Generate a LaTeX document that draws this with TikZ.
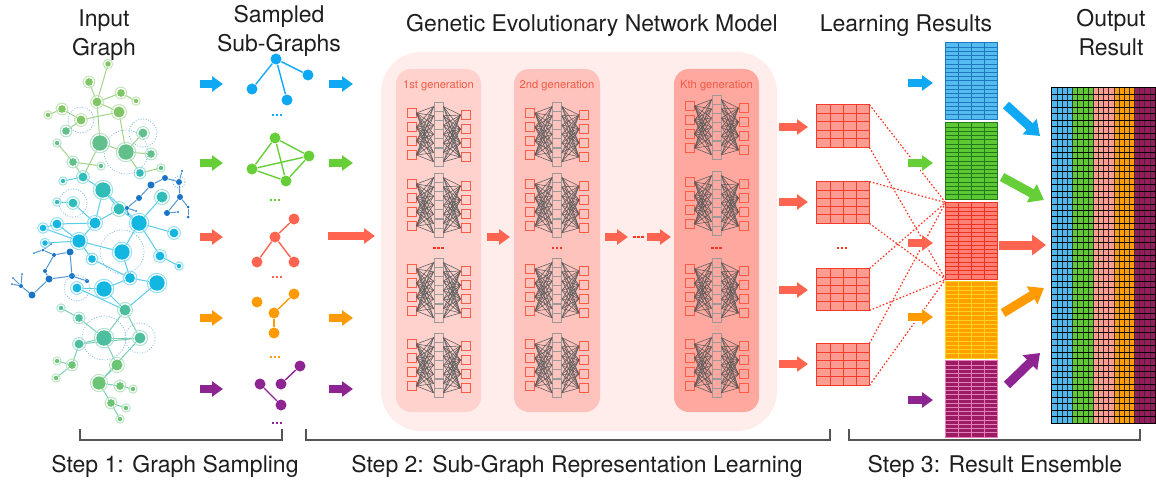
\documentclass[tikz,border=0pt]{standalone}
\usepackage{fontspec}
\setmainfont{TeX Gyre Heros}
\usetikzlibrary{arrows.meta,fit}
\definecolor{txt}{HTML}{1E1E1E}
\definecolor{genred}{HTML}{F25A45}
\definecolor{sqred}{HTML}{FF5C45}
\definecolor{sqgray}{HTML}{9A9A9A}
\definecolor{nngray}{HTML}{5A5A5A}
\definecolor{modelbg}{HTML}{FFEDEC}
\definecolor{gen1}{HTML}{FFD2CD}
\definecolor{gen2}{HTML}{FFC3BD}
\definecolor{genk}{HTML}{FFA89F}
\definecolor{ablue}{HTML}{0FA9F3}
\definecolor{agreen}{HTML}{66CF38}
\definecolor{ared}{HTML}{FF6450}
\definecolor{aorange}{HTML}{FF9A00}
\definecolor{apurple}{HTML}{8E2392}
\definecolor{dotred}{HTML}{FF3322}
\definecolor{brkgray}{HTML}{555555}
\definecolor{haloblue}{HTML}{7DB5E3}
\definecolor{gA}{HTML}{80C665}
\definecolor{gB}{HTML}{62C08A}
\definecolor{gC}{HTML}{30BCB8}
\definecolor{gD}{HTML}{12B6E0}
\definecolor{gF}{HTML}{4DBF9E}
\definecolor{gG}{HTML}{6CC574}
\definecolor{dB}{HTML}{1A74C6}
\definecolor{cB}{HTML}{4FB8EE}
\definecolor{cG}{HTML}{5FC934}
\definecolor{cP}{HTML}{FF9C90}
\definecolor{cO}{HTML}{FF9D00}
\definecolor{cU}{HTML}{9A1A5E}
\definecolor{tbF}{HTML}{55BCF0}\definecolor{tbL}{HTML}{1D78C0}
\definecolor{tgF}{HTML}{5CC833}\definecolor{tgL}{HTML}{23781A}
\definecolor{trF}{HTML}{FF8074}\definecolor{trL}{HTML}{EE3322}
\definecolor{toF}{HTML}{FFA000}\definecolor{toL}{HTML}{FFD21E}
\definecolor{tpF}{HTML}{9B1C60}\definecolor{tpL}{HTML}{E57EBE}
\definecolor{tsF}{HTML}{FF9C92}\definecolor{tsL}{HTML}{F23B2B}
\pgfdeclarelayer{bg}
\pgfsetlayers{bg,main}
\tikzset{
 ttl/.style={font=\fontsize{11.5}{14}\selectfont, text=txt, anchor=base, inner sep=0pt},
 glab/.style={font=\fontsize{5.6}{6}\selectfont, text=genred, anchor=base, inner sep=0pt},
 blk/.style={line width=4pt, -{Triangle[length=5.5pt,width=7.5pt]}},
 wblk/.style={draw=white, line width=6pt, -{Triangle[length=7pt,width=10pt]}},
 bigblk/.style={line width=4.5pt, -{Triangle[length=7pt,width=10pt]}},
 lsq/.style={draw=sqred, line width=0.5pt, minimum size=4.5pt, inner sep=0pt},
 msq/.style={draw=sqgray, line width=0.45pt, minimum size=4.5pt, inner sep=0pt},
 nnl/.style={draw=nngray, line width=0.28pt},
 gnode/.style={circle, inner sep=0pt},
 sn/.style={circle, inner sep=0pt, minimum size=5.5pt},
 se/.style={line width=0.7pt},
 dl/.style={draw=dotred, line width=0.6pt, dash pattern=on 0.8pt off 1pt},
 brk/.style={draw=brkgray, line width=0.7pt},
 halo/.style={draw=haloblue, line width=0.35pt, dash pattern=on 0.5pt off 0.8pt},
 gbox/.style={inner sep=0pt, rounded corners=7.5pt},
}
\newcommand{\nnet}[3]{%
 \foreach \i in {0,...,3} {
   \node[lsq] (#3l\i) at (#1-27, #2+11+14*\i) {};
   \node[lsq] (#3r\i) at (#1+27, #2+13+14*\i) {};
 }
 \foreach \j in {0,...,6} \node[msq] (#3m\j) at (#1, #2+4.6+9.2*\j) {};
 \foreach \i in {0,...,3} \foreach \j in {0,...,6} {
   \draw[nnl] (#3l\i.east) -- (#3m\j.west);
   \draw[nnl] (#3m\j.east) -- (#3r\i.west);
 }
}
\newcommand{\mydots}[3]{%
 \foreach \k in {-1,0,1} \fill[#3] ({#1+\k*4-1.1},{#2-1.1}) rectangle ++(2.2,2.2);
}
\newcommand{\tbl}[9]{%
 \node[fit={(#1,#2) (#3,#4)}, inner sep=0pt, fill=#7] (#9) {};
 \pgfmathtruncatemacro\nc{#5-1}
 \pgfmathtruncatemacro\nr{#6-1}
 \foreach \i in {1,...,\nc} \draw[#8, line width=0.5pt] ({#1+\i*(#3-#1)/#5},#2) -- ({#1+\i*(#3-#1)/#5},#4);
 \foreach \i in {1,...,\nr} \draw[#8, line width=0.5pt] (#1,{#2+\i*(#4-#2)/#6}) -- (#3,{#2+\i*(#4-#2)/#6});
 \draw[#8, line width=0.6pt] (#9.north west) rectangle (#9.south east);
}
\begin{document}
\begin{tikzpicture}[x=0.5pt,y=-0.5pt]
\useasboundingbox (0,0) rectangle (1156,481);
% ---------- titles ----------
\node[ttl] (t1a) at (104,27) {Input};
\node[ttl] (t1b) at (104,56) {Graph};
\node[ttl] (t2a) at (279,23) {Sampled};
\node[ttl] (t2b) at (279,52) {Sub-Graphs};
\node[ttl] (t3) at (592,32) {Genetic Evolutionary Network Model};
\node[ttl] (t4) at (906,32) {Learning Results};
\node[ttl] (t5a) at (1111,27) {Output};
\node[ttl] (t5b) at (1111,56) {Result};
\node[ttl] (s1) at (175,472) {Step 1: Graph Sampling};
\node[ttl] (s2) at (577,472) {Step 2: Sub-Graph Representation Learning};
\node[ttl] (s3) at (995,472) {Step 3: Result Ensemble};
% ---------- brackets ----------
\draw[brk] (80,429) -- (80,440) -- (282,440) -- (282,429);
\draw[brk] (306,429) -- (306,440) -- (830,440) -- (830,429);
\draw[brk] (849,429) -- (849,440) -- (1140,440) -- (1140,429);
% ---------- input graph ----------
\foreach \n/\x/\y/\r/\c in {
 va/108/64/2.5/gA, vb/89/82/3.5/gA, vc/121/93/3.5/gA, vd/136/101/2/gA, ve/97/102/4/gA,
 vf/62/109/3.5/gA, vg/48/115/2/gA, vh/81/120/4/gA, vi/119/112/5/gA, vj/66/131/3.5/gB,
 vk/143/133/4/gB, vl/100/143/7/gB, vm/126/152/7/gB, vn/151/154/3.5/gB, vo/57/143/2/gB,
 vp/73/162/3.5/gB, vq/101/166/2/gB, vr/140/173/3.5/gC, vs/161/168/2/gB, vt/83/177/4/gC,
 vu/63/181/2/gC, vv/103/190/7/gC, vw/73/203/4/gC, vx/57/202/2/gC, vy/119/209/5/gC,
 vz/139/223/7/gD, vA/162/197/5/gC, vB/174/233/4/gD, vC/95/223/5/gD, vD/57/224/4/gD,
 vE/43/228/3/gD, vF/79/241/6/gD, vG/45/243/2.5/gD, vH/122/252/7/gD, vI/160/256/4/gD,
 vJ/179/266/2/gD, vK/92/259/3.5/gD, vL/130/278/4.5/gD, vM/157/283/7/gD, vN/104/289/7/gD,
 vO/77/288/4/gD, vP/125/310/5/gF, vQ/79/318/3.5/gF, vR/61/308/2/gF, vS/104/338/7/gF,
 vT/140/338/5/gF, vU/79/344/4/gF, vV/117/365/5/gG, vW/72/365/3.5/gG, vX/57/361/2/gG,
 vY/56/378/2/gG, vZ/99/383/6/gG, vAA/120/386/3.5/gG, vAB/133/389/2/gG, vAC/111/403/3.5/gG,
 vAD/126/408/2/gG, vAE/120/419/2/gG}
 {
 \pgfmathsetmacro\rad{\r*1.1}
 \pgfmathsetmacro\ring{\r*0.55+1.0}
 \node[gnode, fill=\c, minimum size={\rad pt}] (\n) at (\x,\y) {};
 \draw[\c!45!white, line width=0.5pt] (\n.center) circle[radius={\ring pt}];
 }
\foreach \n/\x/\y/\r in {
 db1/151/185/3.5, db2/165/178/3, db3/179/182/3, db4/182/171/1.2, db5/180/197/3,
 db6/188/207/1.5, db7/188/217/1.5, db8/167/213/3, db9/178/212/1.2, db10/139/198/3,
 db11/127/208/2, db12/128/214/1, db13/136/211/1, dc1/70/252/3.5, dc2/54/255/2,
 dc3/43/250/1.5, dc4/34/253/1, dc5/51/244/1, dc6/45/271/2, dc7/72/276/3,
 dc8/87/281/2, dc9/49/279/3.5, dc10/32/295/3.5, dc11/21/286/2, dc12/13/278/1,
 dc13/22/274/1, dc14/12/284/1}
 \node[gnode, fill=dB, minimum size={\r pt}] (\n) at (\x,\y) {};
\foreach \n/\rr in {vh/6.5pt, vk/7pt, vm/11pt, vw/7pt, vH/11pt, vO/6.5pt, vS/11pt, vT/7.5pt, db3/3pt}
 \draw[halo] (\n) circle[radius=\rr];
\begin{pgfonlayer}{bg}
\foreach \a/\b in {va/ve, vb/ve, ve/vc, vc/vd, ve/vi, ve/vl, vf/vh, vg/vf, vh/vi, vj/vh,
 vl/vm, vi/vm, vk/vm, vm/vn, vm/vr, vr/vs, vo/vp, vp/vq, vp/vt, vt/vl}
 \draw[gA!75!white, line width=0.5pt] (\a) -- (\b);
\foreach \a/\b in {vu/vt, vv/vt, vv/vy, vv/vz, vw/vx, vw/vC, vy/vz, vz/vA, vz/vB, vz/vH,
 vC/vD, vC/vF, vC/vv, vD/vE, vE/vF, vF/vK, vF/vH, vH/vL, vK/vL, vL/vM, vL/vN, vN/vO,
 vN/vP, vO/vP, vI/vJ, vI/vz, vM/vP, vy/vC, vD/vF, vG/vF}
 \draw[gD!70!white, line width=0.5pt] (\a) -- (\b);
\foreach \a/\b in {vP/vS, vP/vT, vQ/vR, vQ/vS, vS/vT, vS/vU, vT/vU, vU/vW, vW/vX, vW/vY,
 vS/vV, vV/vZ, vT/vZ, vZ/vAA, vAA/vAB, vZ/vAC, vAC/vAD, vAC/vAE}
 \draw[gF!75!white, line width=0.5pt] (\a) -- (\b);
\foreach \a/\b in {db1/db2, db2/db3, db3/db4, db3/db5, db5/db6, db6/db7, db5/db8, db8/db9,
 db1/db10, db10/db11, db11/db12, db11/db13, dc1/dc2, dc2/dc3, dc3/dc4, dc3/dc5, dc1/dc7,
 dc2/dc6, dc6/dc9, dc9/dc7, dc7/dc8, dc9/dc10, dc10/dc11, dc11/dc12, dc11/dc13, dc11/dc14}
 \draw[dB!75!white, line width=0.5pt] (\a) -- (\b);
\end{pgfonlayer}
% ---------- sampled sub-graphs ----------
\foreach \n/\x/\y in {sb1/276/59, sb2/308/75, sb3/252/89, sb4/287/100}
 \node[sn, fill=ablue] (\n) at (\x,\y) {};
\foreach \a/\b in {sb1/sb2, sb1/sb3, sb1/sb4} \draw[se, ablue] (\a) -- (\b);
\foreach \n/\x/\y in {sg1/275/138, sg2/309/156, sg3/252/169, sg4/286/181}
 \node[sn, fill=agreen] (\n) at (\x,\y) {};
\foreach \a/\b in {sg1/sg2, sg1/sg3, sg1/sg4, sg3/sg2, sg3/sg4, sg2/sg4} \draw[se, agreen] (\a) -- (\b);
\foreach \n/\x/\y in {sr1/294/219, sr2/275/237, sr3/257/262, sr4/294/262}
 \node[sn, fill=ared] (\n) at (\x,\y) {};
\foreach \a/\b in {sr1/sr2, sr2/sr3, sr2/sr4} \draw[se, ared] (\a) -- (\b);
\foreach \n/\x/\y in {so1/257/302, so2/294/294, so3/274/313, so4/274/333}
 \node[sn, fill=aorange] (\n) at (\x,\y) {};
\foreach \a/\b in {so2/so3, so3/so4} \draw[se, aorange] (\a) -- (\b);
\foreach \n/\x/\y in {sp1/260/384, sp2/281/384, sp3/300/366, sp4/281/405}
 \node[sn, fill=apurple] (\n) at (\x,\y) {};
\foreach \a/\b in {sp2/sp3, sp1/sp4} \draw[se, apurple] (\a) -- (\b);
\mydots{277}{115}{ablue}
\mydots{275}{200}{agreen}
\mydots{277}{277}{ared}
\mydots{275}{357}{aorange}
\mydots{277}{423}{apurple}
% arrows around sub-graphs
\foreach \y/\c in {84/ablue, 163/agreen, 237/ared, 318/aorange, 389/apurple}
 \draw[blk, \c] (200,\y) -- (223,\y);
\foreach \y/\c in {84/ablue, 163/agreen, 318/aorange, 389/apurple}
 \draw[blk, \c] (329,\y) -- (353,\y);
\draw[blk, ared] (328,236) -- (375,236);
% ---------- model ----------
\node[fit={(381,52) (777,431)}, inner sep=0pt, fill=modelbg, rounded corners=20pt] (model) {};
\node[fit={(396,69) (481,412)}, gbox, fill=gen1] (g1box) {};
\node[fit={(514,69) (600,412)}, gbox, fill=gen2] (g2box) {};
\node[fit={(674,69) (759,412)}, gbox, fill=genk] (gkbox) {};
\node[glab] (g1lab) at (438.5,89) {1st generation};
\node[glab] (g2lab) at (557,89) {2nd generation};
\node[glab] (gklab) at (716.5,89) {Kth generation};
\nnet{438.5}{102}{aa}
\nnet{438.5}{173}{ab}
\nnet{438.5}{258}{ac}
\nnet{438.5}{333}{ad}
\nnet{557}{102}{ba}
\nnet{557}{173}{bb}
\nnet{557}{258}{bc}
\nnet{557}{333}{bd}
\nnet{716.5}{95}{ka}
\nnet{716.5}{171}{kb}
\nnet{716.5}{258}{kc}
\nnet{716.5}{333}{kd}
\mydots{438.5}{248}{dotred}
\mydots{557}{248}{dotred}
\mydots{716.5}{248}{dotred}
\draw[blk, ared] (487,237) -- (510,237);
\draw[blk, ared] (605,237) -- (628,237);
\mydots{638.5}{237}{dotred}
\draw[blk, ared] (647,237) -- (671,237);
\foreach \y in {127,202,290,364} \draw[blk, ared] (779,\y) -- (808,\y);
% ---------- learning results ----------
\tbl{817}{105}{869}{147}{4}{5}{tsF}{tsL}{lt1}
\tbl{817}{182}{869}{223}{4}{5}{tsF}{tsL}{lt2}
\tbl{817}{269}{869}{310}{4}{5}{tsF}{tsL}{lt3}
\tbl{817}{344}{869}{385}{4}{5}{tsF}{tsL}{lt4}
\mydots{842}{248}{dotred}
\tbl{946}{43}{997}{119}{4}{18}{tbF}{tbL}{rt1}
\tbl{946}{123}{997}{199}{4}{18}{tgF}{tgL}{rt2}
\tbl{946}{203}{997}{279}{4}{18}{trF}{trL}{rt3}
\tbl{946}{282}{997}{358}{4}{18}{toF}{toL}{rt4}
\tbl{946}{361}{997}{437}{4}{18}{tpF}{tpL}{rt5}
\foreach \t in {lt1,lt2,lt3,lt4} {
 \draw[dl] (\t.north east) -- (rt3.north west);
 \draw[dl] (\t.south east) -- (rt3.south west);
}
\foreach \y in {163,243,317} \draw[wblk] (906,\y) -- (935,\y);
\foreach \y/\c in {83/ablue, 163/agreen, 243/ared, 317/aorange, 400/apurple}
 \draw[blk, \c] (908,\y) -- (933,\y);
% ---------- output ----------
\node[fit={(1052,88) (1155,423)}, inner sep=0pt] (out) {};
\foreach \c [count=\k from 0] in {cB,cG,cP,cO,cU}
 \fill[\c] ({1052+\k*20.6},88) rectangle ({1052+(\k+1)*20.6},423);
\foreach \i in {1,...,19} \draw[black!80, line width=0.3pt] ({1052+\i*5.15},88) -- ({1052+\i*5.15},423);
\foreach \i in {1,...,51} \draw[black, line width=0.45pt] (1052,{88+\i*6.4423}) -- (1155,{88+\i*6.4423});
\draw[black, line width=0.5pt] (out.north west) rectangle (out.south east);
\draw[bigblk, ablue] (1006,105) -- (1040,136);
\draw[bigblk, agreen] (1002,177) -- (1044,200);
\draw[bigblk, ared] (999,245) -- (1046,245);
\draw[bigblk, aorange] (1003,313) -- (1044,288);
\draw[bigblk, apurple] (1007,385) -- (1040,353);
\end{tikzpicture}
\end{document}
